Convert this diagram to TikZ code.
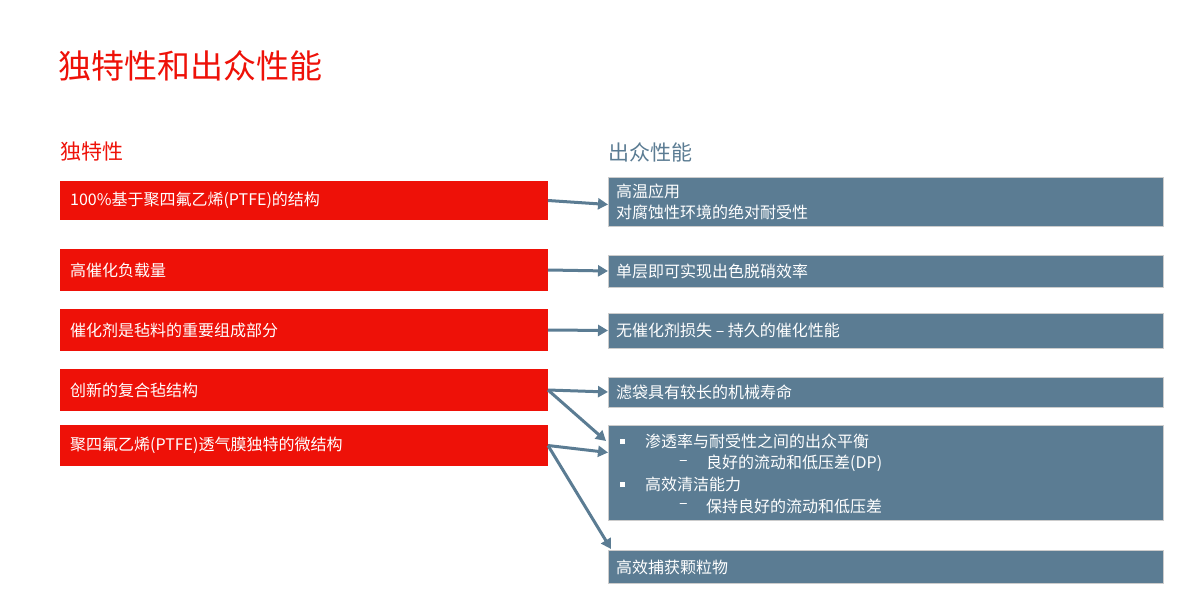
\documentclass[tikz,border=0pt]{standalone}
\usepackage{fontspec}
\setmainfont{Noto Sans CJK SC}
\usetikzlibrary{arrows.meta,calc}
\definecolor{rr}{HTML}{EE1108}
\definecolor{bb}{HTML}{5B7C93}
\begin{document}
\begin{tikzpicture}[x=1pt,y=-1pt,
  bbox/.style={fill=bb,draw=gray!40,line width=1pt},
  tx/.style={anchor=west,text=white,font=\fontsize{16}{21}\selectfont,inner sep=0},
  arr/.style={draw=bb,line width=3pt,-{Triangle[length=10pt,width=11pt]}}]
\useasboundingbox (0,0) rectangle (1200,594);
\node[anchor=west,text=rr,font=\fontsize{33}{36}\selectfont,inner sep=0] (title) at (58,66) {独特性和出众性能};
\node[anchor=west,text=rr,font=\fontsize{21}{24}\selectfont,inner sep=0] (h1) at (60,152) {独特性};
\node[anchor=west,text=bb,font=\fontsize{21}{24}\selectfont,inner sep=0] (h2) at (608,152) {出众性能};
% red
\foreach \n/\a/\b/\t in {r1/181/220/{100\%基于聚四氟乙烯(PTFE)的结构},r2/249/291/高催化负载量,r3/309/351/催化剂是毡料的重要组成部分,r4/369/411/创新的复合毡结构,r5/425/466/聚四氟乙烯(PTFE)透气膜独特的微结构}{
  \fill[rr] (60,\a) rectangle (548,\b);
  \node[tx] (\n) at (70,{(\a+\b)/2}) {\t};
  \coordinate (\n e) at (548,{(\a+\b)/2});
}
% blue
\foreach \n/\a/\b in {b1/177/226,b2/255/287,b3/313/348,b4/377/407,b5/425/520,b6/550/583}{
  \filldraw[bbox] (608,\a) rectangle (1163,\b);
  \coordinate (\n w) at (608,{(\a+\b)/2});
}
\node[tx,align=left] (t1) at (616,201.5) {高温应用\\对腐蚀性环境的绝对耐受性};
\node[tx] (t2) at (616,271) {单层即可实现出色脱硝效率};
\node[tx] (t3) at (616,330.5) {无催化剂损失 – 持久的催化性能};
\node[tx] (t4) at (616,392) {滤袋具有较长的机械寿命};
\node[tx] (t5a) at (620,441) {\rule{5pt}{5pt}};
\node[tx] (t5b) at (645,441) {渗透率与耐受性之间的出众平衡};
\node[tx] (t5c) at (679,463) {–};
\node[tx] (t5d) at (706,463) {良好的流动和低压差(DP)};
\node[tx] (t5e) at (620,484) {\rule{5pt}{5pt}};
\node[tx] (t5f) at (645,484) {高效清洁能力};
\node[tx] (t5g) at (679,506) {–};
\node[tx] (t5h) at (706,506) {保持良好的流动和低压差};
\node[tx] (t6) at (616,567) {高效捕获颗粒物};
\coordinate (c5) at (606,441);
\coordinate (c6) at (611,549);
\draw[arr] (r1e) -- ($(b1w)+(0,3)$);
\draw[arr] (r2e) -- (b2w);
\draw[arr] (r3e) -- (b3w);
\draw[arr] (r4e) -- (b4w);
\draw[arr] (r4e) -- (c5);
\draw[arr] (r5e) -- ($(b5w)+(0,-20)$);
\draw[arr] (r5e) -- (c6);
\end{tikzpicture}
\end{document}
